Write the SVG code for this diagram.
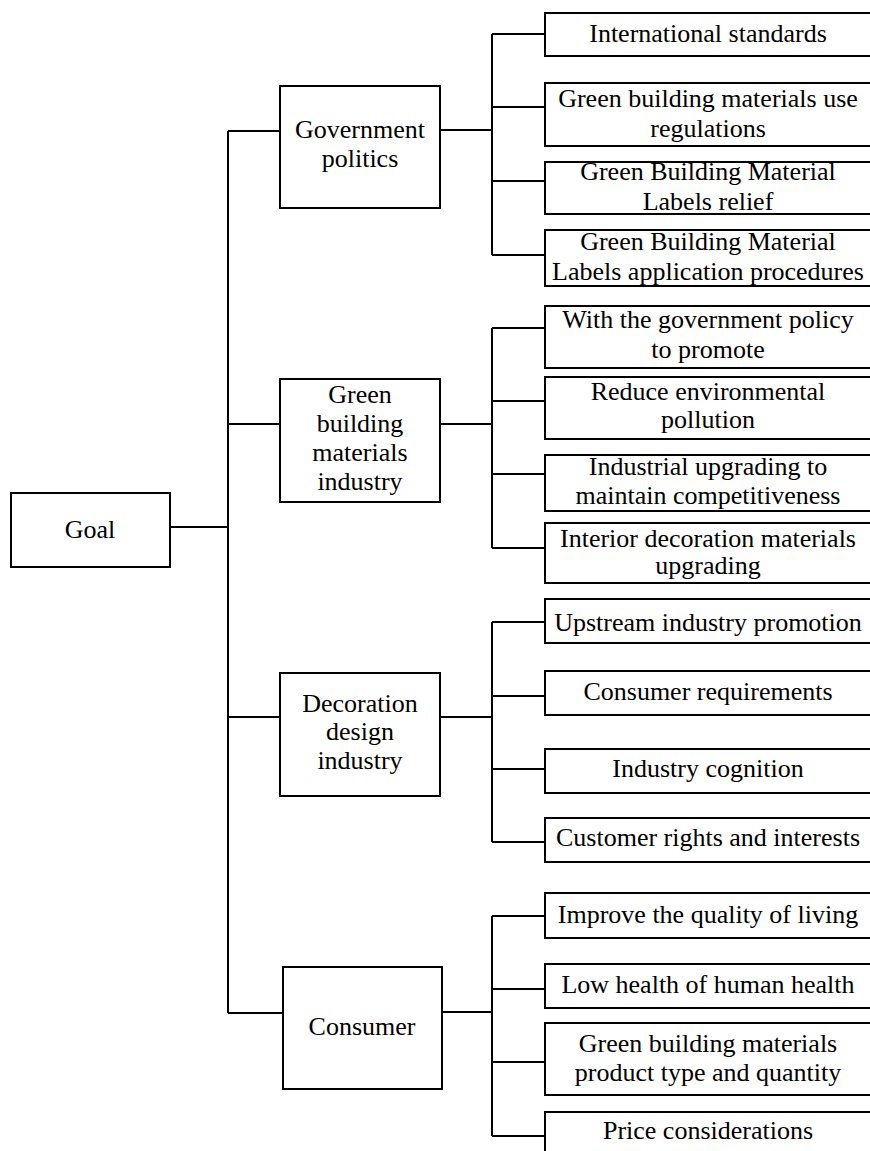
<svg xmlns="http://www.w3.org/2000/svg" width="870" height="1151" viewBox="0 0 870 1151">
<style>
  rect { fill: #fff; stroke: #000; stroke-width: 2; }
  .wire { fill: none; stroke: #000; stroke-width: 2; }
  text { font-family: "Liberation Serif", "Times New Roman", serif; font-size: 26px; fill: #000; text-anchor: middle; }
</style>
<rect x="0" y="0" width="870" height="1151" style="fill:#fff;stroke:none"/>

<!-- connectors -->
<g id="connectors" class="wire">
  <path d="M170 527 H228 M228 131 V1013 M228 131 H280 M228 424 H280 M228 717 H280 M228 1013 H283"/>
  <path d="M440 130 H492 M492 34 V255 M492 34 H545 M492 107 H545 M492 181 H545 M492 255 H545"/>
  <path d="M440 424 H492 M492 328 V548 M492 328 H545 M492 401 H545 M492 474 H545 M492 548 H545"/>
  <path d="M440 717 H492 M492 622 V842 M492 622 H545 M492 696 H545 M492 769 H545 M492 842 H545"/>
  <path d="M440 1012 H492 M492 916 V1136 M492 916 H545 M492 989 H545 M492 1062 H545 M492 1136 H545"/>
</g>

<g id="goal"><rect x="11" y="493" width="159" height="74"/><text x="90" y="538">Goal</text></g>

<g id="gov"><rect x="280" y="86" width="160" height="122"/><text x="360" y="138">Government</text><text x="360" y="167">politics</text></g>
<g id="gov-1"><rect x="545" y="13" width="330" height="43"/><text x="708" y="42">International standards</text></g>
<g id="gov-2"><rect x="545" y="83" width="330" height="63"/><text x="708" y="107">Green building materials use</text><text x="708" y="137">regulations</text></g>
<g id="gov-3"><rect x="545" y="162" width="330" height="52"/><text x="708" y="180">Green Building Material</text><text x="708" y="210">Labels relief</text></g>
<g id="gov-4"><rect x="545" y="230" width="330" height="56"/><text x="708" y="250">Green Building Material</text><text x="708" y="280">Labels application procedures</text></g>

<g id="gbm"><rect x="280" y="379" width="160" height="123"/><text x="360" y="403">Green</text><text x="360" y="432">building</text><text x="360" y="461">materials</text><text x="360" y="490">industry</text></g>
<g id="gbm-1"><rect x="545" y="306" width="330" height="62"/><text x="708" y="328">With the government policy</text><text x="708" y="358">to promote</text></g>
<g id="gbm-2"><rect x="545" y="377" width="330" height="62"/><text x="708" y="400">Reduce environmental</text><text x="708" y="428">pollution</text></g>
<g id="gbm-3"><rect x="545" y="455" width="330" height="56"/><text x="708" y="475">Industrial upgrading to</text><text x="708" y="504">maintain competitiveness</text></g>
<g id="gbm-4"><rect x="545" y="523" width="330" height="60"/><text x="708" y="547">Interior decoration materials</text><text x="708" y="574">upgrading</text></g>

<g id="deco"><rect x="280" y="673" width="160" height="123"/><text x="360" y="712">Decoration</text><text x="360" y="740">design</text><text x="360" y="769">industry</text></g>
<g id="deco-1"><rect x="545" y="599" width="330" height="44"/><text x="708" y="631">Upstream industry promotion</text></g>
<g id="deco-2"><rect x="545" y="671" width="330" height="44"/><text x="708" y="700">Consumer requirements</text></g>
<g id="deco-3"><rect x="545" y="749" width="330" height="44"/><text x="708" y="777">Industry cognition</text></g>
<g id="deco-4"><rect x="545" y="818" width="330" height="44"/><text x="708" y="846">Customer rights and interests</text></g>

<g id="consumer"><rect x="283" y="967" width="159" height="122"/><text x="362" y="1035">Consumer</text></g>
<g id="con-1"><rect x="545" y="893" width="330" height="45"/><text x="708" y="923">Improve the quality of living</text></g>
<g id="con-2"><rect x="545" y="964" width="330" height="44"/><text x="708" y="993">Low health of human health</text></g>
<g id="con-3"><rect x="545" y="1023" width="330" height="72"/><text x="708" y="1052">Green building materials</text><text x="708" y="1081">product type and quantity</text></g>
<g id="con-4"><rect x="545" y="1112" width="330" height="50"/><text x="708" y="1139">Price considerations</text></g>
</svg>
